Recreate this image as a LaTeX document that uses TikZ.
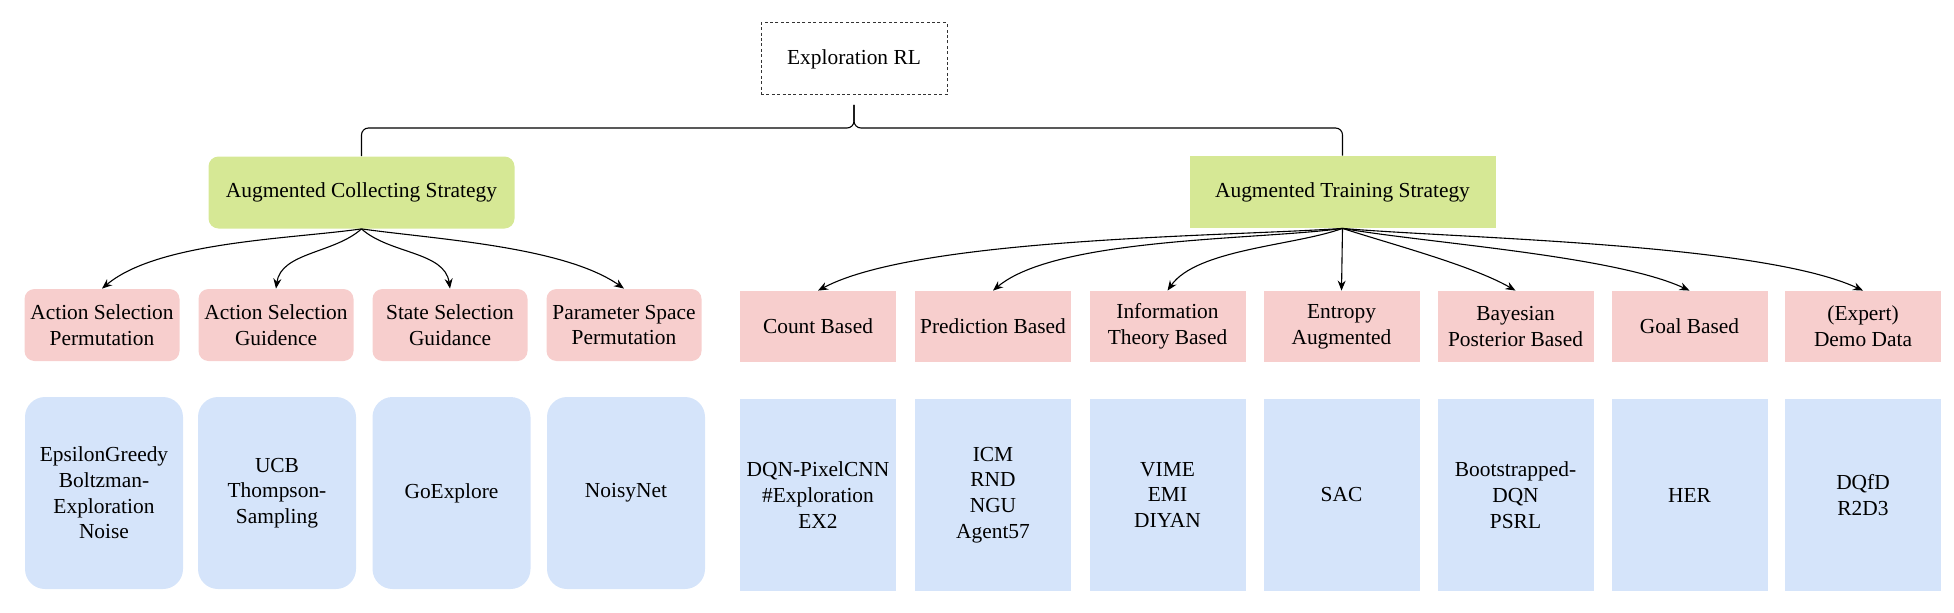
\documentclass[tikz,border=0pt]{standalone}
\usepackage{fontspec}
\setmainfont{Liberation Serif}
\usetikzlibrary{
    arrows.meta,
    calc,
    positioning
}
\definecolor{stratgreen}{RGB}{214,232,149}
\definecolor{catpink}{RGB}{247,206,205}
\definecolor{algblue}{RGB}{213,228,250}
\tikzset{strat/.style={inner sep=2pt, fill=stratgreen, minimum width=153pt, minimum height=36pt, align=center}}
\tikzset{catr/.style={inner sep=2pt, fill=catpink, rounded corners=5pt, minimum width=77.5pt, minimum height=36pt, align=center}}
\tikzset{cats/.style={inner sep=2pt, fill=catpink, minimum width=78pt, minimum height=35.5pt, align=center}}
\tikzset{algr/.style={inner sep=2pt, fill=algblue, rounded corners=10pt, minimum width=79pt, minimum height=96pt, align=center}}
\tikzset{algs/.style={inner sep=2pt, fill=algblue, minimum width=78pt, minimum height=96pt, align=center}}
\tikzset{arr/.style={-{Stealth[length=5pt,width=4pt]}, line width=0.55pt}}

\begin{document}
\begin{tikzpicture}[x=0.5pt, y=0.5pt, font=\fontsize{10.7}{12.85}\selectfont]
                        \useasboundingbox (0,0) rectangle (1954,612);
                        \node[draw=black!80, dashed, dash pattern=on 1.5pt off 1.2pt, line width=0.5pt, minimum width=93pt, minimum height=36pt] (root) at (854,553) {Exploration RL};
                        \node[strat, rounded corners=5pt] (coll) at (361.5,419.5) {Augmented Collecting Strategy};
                        \node[strat] (train) at (1342.5,420) {Augmented Training Strategy};

                        % collecting side
                        \node[catr] (c0) at (102,287) {Action Selection\\Permutation};
                        \node[catr] (c1) at (276,287) {Action Selection\\Guidence};
                        \node[catr] (c2) at (450,287) {State Selection\\Guidance};
                        \node[catr] (c3) at (624,287) {Parameter Space\\Permutation};
                        \node[algr] (a0) at (104,119) {EpsilonGreedy\\Boltzman-\\Exploration\\Noise};
                        \node[algr] (a1) at (277,119) {UCB\\Thompson-\\Sampling};
                        \node[algr] (a2) at (451.5,119) {GoExplore};
                        \node[algr] (a3) at (626,119) {NoisyNet};

                        % training side
                        \node[cats] (t0) at (818,285.5) {Count Based};
                        \node[cats] (t1) at (993,285.5) {Prediction Based};
                        \node[cats] (t2) at (1167.5,285.5) {Information\\Theory Based};
                        \node[cats] (t3) at (1341.5,285.5) {Entropy\\Augmented};
                        \node[cats] (t4) at (1515.5,285.5) {Bayesian\\Posterior Based};
                        \node[cats] (t5) at (1689.5,285.5) {Goal Based};
                        \node[cats] (t6) at (1863,285.5) {(Expert)\\Demo Data};
                        \node[algs] (b0) at (818,117) {DQN-PixelCNN\\\#Exploration\\EX2};
                        \node[algs] (b1) at (993,117) {ICM\\RND\\NGU\\Agent57};
                        \node[algs] (b2) at (1167.5,117) {VIME\\EMI\\DIYAN};
                        \node[algs] (b3) at (1341.5,117) {SAC};
                        \node[algs] (b4) at (1515.5,117) {Bootstrapped-\\DQN\\PSRL};
                        \node[algs] (b5) at (1689.5,117) {HER};
                        \node[algs] (b6) at (1863,117) {DQfD\\R2D3};

                        % brace
                        \coordinate (tip) at (854,507);
                        \coordinate (bar) at (854,484);
                        \draw[line width=0.55pt, rounded corners=3.5pt] (coll.north) |- (bar) -- (tip);
                        \draw[line width=0.55pt, rounded corners=3.5pt] (tip) -- (bar) -| (train.north);

                        \foreach \t/\o/\i/\l in {c0/188/40/0.7, c1/222/82/0.9, c2/-42/98/0.9, c3/-8/145/0.7}
                            \draw[arr] (coll.south) to[out=\o, in=\i, looseness=\l] (\t.north);
                        \foreach \t/\o/\i/\l in {t0/184/28/0.55, t1/188/40/0.6, t2/200/55/0.7, t4/-18/150/0.7, t5/-10/155/0.6, t6/-5/155/0.55}
                            \draw[arr] (train.south) to[out=\o, in=\i, looseness=\l] (\t.north);
                        \draw[arr] (train.south) -- (t3.north);
                    \end{tikzpicture}
\end{document}
